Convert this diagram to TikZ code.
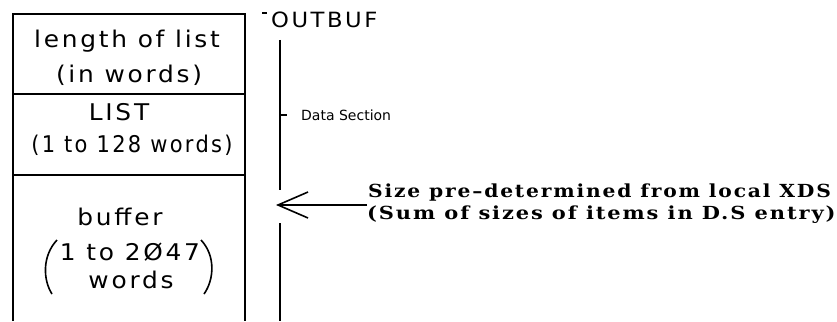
\documentclass[tikz,border=0pt]{standalone}
\usepackage{fontspec}
\usetikzlibrary{arrows.meta}
\newfontfamily\boxfont{DejaVu Sans}[LetterSpace=12,FakeStretch=1.08]
\newfontfamily\smallfont{DejaVu Sans}
\newfontfamily\noteserif{DejaVu Serif}[LetterSpace=10,FakeStretch=1.12]
\tikzset{
  frame/.style={line width=2pt},
  bigtext/.style={font=\boxfont\fontsize{23pt}{27pt}\selectfont, inner sep=0pt, anchor=base},
  notetext/.style={font=\noteserif\bfseries\fontsize{18pt}{21pt}\selectfont, inner sep=0pt, anchor=base west},
}
\begin{document}
\begin{tikzpicture}[x=1pt,y=-1pt]
\useasboundingbox (0,0) rectangle (837,321);
% box
\draw[frame] (13,321) -- (13,14) -- (245,14) -- (245,321);
\draw[frame] (13,94) -- (245,94);
\draw[frame] (13,175) -- (245,175);
% box texts
\node[bigtext] (len) at (127,48) {length of list};
\node[bigtext] (inw) at (129,82) {(in words)};
\node[bigtext] (lst) at (119,120) {LIST};
\node[bigtext] (rng) at (132,152) {\scalebox{0.845}[1]{(1 to 128 words)}};
\node[bigtext] (buf) at (120,225) {buffer};
\node[bigtext] (num) at (130,260) {1 to 2Ø47};
\node[bigtext] (wds) at (131,288) {words};
% big parentheses
\draw[line width=1.6pt] (57,240) .. controls (42,256) and (43,280) .. (52,294);
\draw[line width=1.6pt] (201,240) .. controls (216,256) and (214,280) .. (204,294);
% right scale line
\draw[frame] (280,40) -- (280,190);
\draw[frame] (280,223) -- (280,321);
\draw[line width=1.5pt] (262,13) -- (267,13);
\node[font=\boxfont\fontsize{21pt}{25pt}\selectfont, inner sep=0pt, anchor=base west] (obuf) at (271,28) {OUTBUF};
\draw[line width=1.5pt] (280,115) -- (287,115);
\node[font=\smallfont\fontsize{14pt}{16pt}\selectfont, inner sep=0pt, anchor=base west] (ds) at (301,120) {Data Section};
% note and arrow
\node[notetext] (n1) at (368,197) {\scalebox{1.005}[1]{Size pre–determined from local XDS}};
\node[notetext] (n2) at (367,219) {\scalebox{1.04}[1]{(Sum of sizes of items in D.S entry)}};
\coordinate (as) at (367,205);
\coordinate (at) at (276,205);
\draw[line width=1.6pt, -{Straight Barb[length=30pt,width=26pt,line width=1.6pt]}] (as) -- (at);
\end{tikzpicture}
\end{document}
